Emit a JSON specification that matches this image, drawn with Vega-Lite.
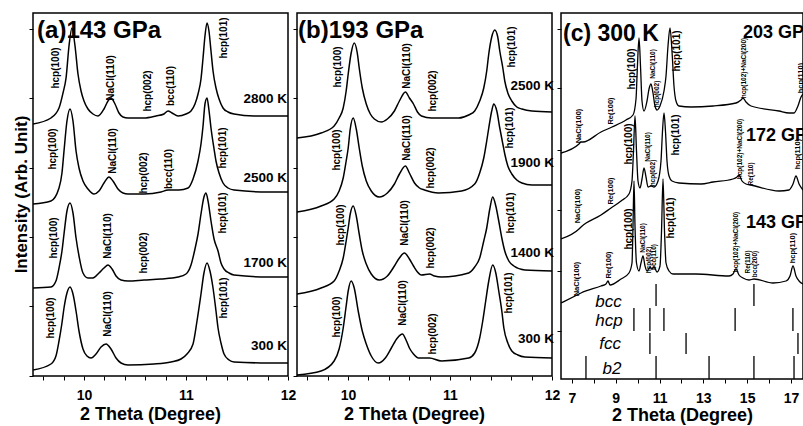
{
"$schema":"https://vega.github.io/schema/vega-lite/v6.json",
"padding":{"left":11,"top":12,"right":0,"bottom":0},
"bounds":"flush",
"spacing":9,
"config":{"font":"Liberation Sans","view":{"stroke":"black","strokeWidth":1.5},
"axis":{"domain":false,"grid":false,"tickSize":4,"tickColor":"black","tickWidth":1,"labelFont":"Liberation Sans","labelFontSize":14,"labelFontWeight":"bold","labelColor":"black","labelPadding":8,"titleFont":"Liberation Sans","titleFontSize":18,"titleFontWeight":"bold","titleColor":"black"},
"text":{"font":"Liberation Sans","color":"black"}},
"datasets":{
"aC":[
{"s":"2800","x":9.5,"y":252},{"s":"2800","x":9.676,"y":258},{"s":"2800","x":9.755,"y":268},{"s":"2800","x":9.794,"y":283},{"s":"2800","x":9.824,"y":298},{"s":"2800","x":9.853,"y":330},{"s":"2800","x":9.882,"y":348},{"s":"2800","x":9.912,"y":330},{"s":"2800","x":9.941,"y":302},{"s":"2800","x":9.971,"y":285},{"s":"2800","x":10.0,"y":275},{"s":"2800","x":10.039,"y":267},{"s":"2800","x":10.088,"y":262},{"s":"2800","x":10.137,"y":260},{"s":"2800","x":10.196,"y":267},{"s":"2800","x":10.235,"y":275},{"s":"2800","x":10.265,"y":278},{"s":"2800","x":10.304,"y":272},{"s":"2800","x":10.343,"y":263},{"s":"2800","x":10.382,"y":259},{"s":"2800","x":10.431,"y":258},{"s":"2800","x":10.588,"y":258},{"s":"2800","x":10.706,"y":260},{"s":"2800","x":10.784,"y":262},{"s":"2800","x":10.824,"y":265},{"s":"2800","x":10.863,"y":263},{"s":"2800","x":10.922,"y":260},{"s":"2800","x":11.0,"y":262},{"s":"2800","x":11.049,"y":265},{"s":"2800","x":11.088,"y":272},{"s":"2800","x":11.118,"y":282},{"s":"2800","x":11.147,"y":297},{"s":"2800","x":11.167,"y":318},{"s":"2800","x":11.186,"y":340},{"s":"2800","x":11.206,"y":353},{"s":"2800","x":11.225,"y":345},{"s":"2800","x":11.245,"y":325},{"s":"2800","x":11.265,"y":305},{"s":"2800","x":11.294,"y":288},{"s":"2800","x":11.324,"y":277},{"s":"2800","x":11.363,"y":268},{"s":"2800","x":11.412,"y":264},{"s":"2800","x":11.471,"y":262},{"s":"2800","x":11.667,"y":260},{"s":"2800","x":12.0,"y":260},
{"s":"2500","x":9.5,"y":172},{"s":"2500","x":9.676,"y":175},{"s":"2500","x":9.755,"y":188},{"s":"2500","x":9.784,"y":203},{"s":"2500","x":9.804,"y":225},{"s":"2500","x":9.833,"y":255},{"s":"2500","x":9.863,"y":267},{"s":"2500","x":9.892,"y":255},{"s":"2500","x":9.922,"y":225},{"s":"2500","x":9.951,"y":208},{"s":"2500","x":9.99,"y":195},{"s":"2500","x":10.039,"y":187},{"s":"2500","x":10.098,"y":182},{"s":"2500","x":10.147,"y":185},{"s":"2500","x":10.196,"y":193},{"s":"2500","x":10.245,"y":199},{"s":"2500","x":10.284,"y":195},{"s":"2500","x":10.333,"y":187},{"s":"2500","x":10.382,"y":183},{"s":"2500","x":10.431,"y":182},{"s":"2500","x":10.588,"y":182},{"s":"2500","x":10.755,"y":184},{"s":"2500","x":10.824,"y":186},{"s":"2500","x":10.931,"y":186},{"s":"2500","x":11.02,"y":188},{"s":"2500","x":11.069,"y":197},{"s":"2500","x":11.118,"y":215},{"s":"2500","x":11.147,"y":232},{"s":"2500","x":11.167,"y":250},{"s":"2500","x":11.186,"y":272},{"s":"2500","x":11.206,"y":278},{"s":"2500","x":11.225,"y":266},{"s":"2500","x":11.245,"y":248},{"s":"2500","x":11.275,"y":227},{"s":"2500","x":11.294,"y":215},{"s":"2500","x":11.324,"y":203},{"s":"2500","x":11.363,"y":193},{"s":"2500","x":11.412,"y":188},{"s":"2500","x":11.471,"y":186},{"s":"2500","x":11.804,"y":184},{"s":"2500","x":12.0,"y":184},
{"s":"1700","x":9.5,"y":88},{"s":"1700","x":9.676,"y":89},{"s":"1700","x":9.725,"y":95},{"s":"1700","x":9.755,"y":108},{"s":"1700","x":9.784,"y":125},{"s":"1700","x":9.804,"y":142},{"s":"1700","x":9.833,"y":165},{"s":"1700","x":9.863,"y":173},{"s":"1700","x":9.892,"y":163},{"s":"1700","x":9.922,"y":138},{"s":"1700","x":9.951,"y":120},{"s":"1700","x":9.99,"y":103},{"s":"1700","x":10.039,"y":98},{"s":"1700","x":10.088,"y":98},{"s":"1700","x":10.147,"y":103},{"s":"1700","x":10.196,"y":108},{"s":"1700","x":10.235,"y":111},{"s":"1700","x":10.275,"y":107},{"s":"1700","x":10.314,"y":100},{"s":"1700","x":10.363,"y":96},{"s":"1700","x":10.431,"y":95},{"s":"1700","x":10.588,"y":96},{"s":"1700","x":10.755,"y":97},{"s":"1700","x":10.922,"y":99},{"s":"1700","x":11.0,"y":102},{"s":"1700","x":11.049,"y":111},{"s":"1700","x":11.088,"y":127},{"s":"1700","x":11.118,"y":142},{"s":"1700","x":11.147,"y":162},{"s":"1700","x":11.176,"y":179},{"s":"1700","x":11.196,"y":183},{"s":"1700","x":11.216,"y":175},{"s":"1700","x":11.245,"y":155},{"s":"1700","x":11.275,"y":137},{"s":"1700","x":11.314,"y":125},{"s":"1700","x":11.343,"y":113},{"s":"1700","x":11.373,"y":107},{"s":"1700","x":11.422,"y":103},{"s":"1700","x":11.471,"y":101},{"s":"1700","x":11.804,"y":99},{"s":"1700","x":12.0,"y":99},
{"s":"300","x":9.5,"y":6},{"s":"300","x":9.676,"y":12},{"s":"300","x":9.725,"y":20},{"s":"300","x":9.755,"y":35},{"s":"300","x":9.784,"y":53},{"s":"300","x":9.804,"y":68},{"s":"300","x":9.833,"y":83},{"s":"300","x":9.863,"y":89},{"s":"300","x":9.892,"y":82},{"s":"300","x":9.922,"y":65},{"s":"300","x":9.951,"y":45},{"s":"300","x":9.99,"y":27},{"s":"300","x":10.029,"y":20},{"s":"300","x":10.069,"y":18},{"s":"300","x":10.118,"y":22},{"s":"300","x":10.167,"y":29},{"s":"300","x":10.216,"y":32},{"s":"300","x":10.265,"y":27},{"s":"300","x":10.314,"y":18},{"s":"300","x":10.363,"y":13},{"s":"300","x":10.431,"y":11},{"s":"300","x":10.686,"y":12},{"s":"300","x":10.853,"y":14},{"s":"300","x":10.951,"y":17},{"s":"300","x":11.01,"y":22},{"s":"300","x":11.069,"y":32},{"s":"300","x":11.108,"y":55},{"s":"300","x":11.147,"y":82},{"s":"300","x":11.176,"y":103},{"s":"300","x":11.206,"y":113},{"s":"300","x":11.235,"y":105},{"s":"300","x":11.265,"y":88},{"s":"300","x":11.294,"y":65},{"s":"300","x":11.314,"y":48},{"s":"300","x":11.343,"y":33},{"s":"300","x":11.373,"y":22},{"s":"300","x":11.422,"y":16},{"s":"300","x":11.471,"y":14},{"s":"300","x":11.804,"y":13},{"s":"300","x":12.0,"y":13}
],
"aL":[
{"x":9.725,"y":308,"t":"hcp(100)"},{"x":10.265,"y":298,"t":"NaCl(110)"},{"x":10.627,"y":285,"t":"hcp(002)"},{"x":10.853,"y":290,"t":"bcc(110)"},{"x":11.373,"y":338,"t":"hcp(101)"},
{"x":9.696,"y":227,"t":"hcp(100)"},{"x":10.284,"y":225,"t":"NaCl(110)"},{"x":10.588,"y":203,"t":"hcp(002)"},{"x":10.833,"y":207,"t":"bcc(110)"},{"x":11.363,"y":228,"t":"hcp(101)"},
{"x":9.706,"y":138,"t":"hcp(100)"},{"x":10.235,"y":140,"t":"NaCl(110)"},{"x":10.588,"y":123,"t":"hcp(002)"},{"x":11.363,"y":163,"t":"hcp(101)"},
{"x":9.676,"y":58,"t":"hcp(100)"},{"x":10.235,"y":62,"t":"NaCl(110)"},{"x":11.373,"y":78,"t":"hcp(101)"}
],
"aT":[{"x":11.99,"y":277,"t":"2800 K"},{"x":11.99,"y":198,"t":"2500 K"},{"x":11.99,"y":113,"t":"1700 K"},{"x":11.99,"y":30,"t":"300 K"}],
"aH":[{"x":9.54,"y":338,"t":"(a)143 GPa"}],
"bC":[
{"s":"2500","x":9.5,"y":238},{"s":"2500","x":9.736,"y":243},{"s":"2500","x":9.864,"y":250},{"s":"2500","x":9.913,"y":258},{"s":"2500","x":9.953,"y":268},{"s":"2500","x":9.982,"y":285},{"s":"2500","x":10.002,"y":302},{"s":"2500","x":10.031,"y":323},{"s":"2500","x":10.061,"y":333},{"s":"2500","x":10.091,"y":323},{"s":"2500","x":10.11,"y":308},{"s":"2500","x":10.14,"y":288},{"s":"2500","x":10.179,"y":272},{"s":"2500","x":10.219,"y":262},{"s":"2500","x":10.258,"y":257},{"s":"2500","x":10.327,"y":254},{"s":"2500","x":10.386,"y":257},{"s":"2500","x":10.455,"y":265},{"s":"2500","x":10.504,"y":275},{"s":"2500","x":10.563,"y":284},{"s":"2500","x":10.602,"y":278},{"s":"2500","x":10.642,"y":272},{"s":"2500","x":10.681,"y":264},{"s":"2500","x":10.72,"y":260},{"s":"2500","x":10.819,"y":258},{"s":"2500","x":11.085,"y":258},{"s":"2500","x":11.183,"y":261},{"s":"2500","x":11.242,"y":265},{"s":"2500","x":11.291,"y":275},{"s":"2500","x":11.331,"y":288},{"s":"2500","x":11.36,"y":305},{"s":"2500","x":11.38,"y":322},{"s":"2500","x":11.409,"y":339},{"s":"2500","x":11.439,"y":346},{"s":"2500","x":11.468,"y":339},{"s":"2500","x":11.488,"y":325},{"s":"2500","x":11.518,"y":308},{"s":"2500","x":11.537,"y":295},{"s":"2500","x":11.567,"y":283},{"s":"2500","x":11.606,"y":275},{"s":"2500","x":11.655,"y":269},{"s":"2500","x":11.705,"y":267},{"s":"2500","x":11.803,"y":265},{"s":"2500","x":12.0,"y":264},
{"s":"1900","x":9.5,"y":164},{"s":"1900","x":9.736,"y":170},{"s":"1900","x":9.864,"y":177},{"s":"1900","x":9.913,"y":185},{"s":"1900","x":9.953,"y":198},{"s":"1900","x":9.982,"y":215},{"s":"1900","x":10.002,"y":228},{"s":"1900","x":10.022,"y":247},{"s":"1900","x":10.051,"y":258},{"s":"1900","x":10.081,"y":247},{"s":"1900","x":10.11,"y":228},{"s":"1900","x":10.14,"y":210},{"s":"1900","x":10.179,"y":195},{"s":"1900","x":10.228,"y":185},{"s":"1900","x":10.307,"y":179},{"s":"1900","x":10.386,"y":183},{"s":"1900","x":10.455,"y":192},{"s":"1900","x":10.504,"y":202},{"s":"1900","x":10.563,"y":210},{"s":"1900","x":10.602,"y":203},{"s":"1900","x":10.652,"y":193},{"s":"1900","x":10.701,"y":188},{"s":"1900","x":10.75,"y":186},{"s":"1900","x":10.888,"y":183},{"s":"1900","x":11.114,"y":185},{"s":"1900","x":11.242,"y":192},{"s":"1900","x":11.291,"y":203},{"s":"1900","x":11.331,"y":218},{"s":"1900","x":11.36,"y":235},{"s":"1900","x":11.38,"y":248},{"s":"1900","x":11.409,"y":265},{"s":"1900","x":11.429,"y":272},{"s":"1900","x":11.459,"y":265},{"s":"1900","x":11.488,"y":248},{"s":"1900","x":11.518,"y":232},{"s":"1900","x":11.537,"y":222},{"s":"1900","x":11.567,"y":210},{"s":"1900","x":11.606,"y":202},{"s":"1900","x":11.655,"y":196},{"s":"1900","x":11.705,"y":193},{"s":"1900","x":11.803,"y":191},{"s":"1900","x":12.0,"y":191},
{"s":"1400","x":9.5,"y":82},{"s":"1400","x":9.736,"y":88},{"s":"1400","x":9.864,"y":95},{"s":"1400","x":9.913,"y":105},{"s":"1400","x":9.953,"y":118},{"s":"1400","x":9.982,"y":135},{"s":"1400","x":10.002,"y":148},{"s":"1400","x":10.022,"y":162},{"s":"1400","x":10.051,"y":170},{"s":"1400","x":10.081,"y":160},{"s":"1400","x":10.11,"y":142},{"s":"1400","x":10.14,"y":125},{"s":"1400","x":10.179,"y":112},{"s":"1400","x":10.228,"y":102},{"s":"1400","x":10.307,"y":96},{"s":"1400","x":10.386,"y":100},{"s":"1400","x":10.455,"y":110},{"s":"1400","x":10.504,"y":118},{"s":"1400","x":10.553,"y":123},{"s":"1400","x":10.602,"y":117},{"s":"1400","x":10.642,"y":110},{"s":"1400","x":10.681,"y":104},{"s":"1400","x":10.72,"y":101},{"s":"1400","x":10.799,"y":102},{"s":"1400","x":10.848,"y":100},{"s":"1400","x":10.917,"y":99},{"s":"1400","x":11.183,"y":103},{"s":"1400","x":11.242,"y":109},{"s":"1400","x":11.291,"y":118},{"s":"1400","x":11.331,"y":135},{"s":"1400","x":11.36,"y":148},{"s":"1400","x":11.39,"y":167},{"s":"1400","x":11.419,"y":179},{"s":"1400","x":11.449,"y":170},{"s":"1400","x":11.478,"y":155},{"s":"1400","x":11.508,"y":138},{"s":"1400","x":11.537,"y":125},{"s":"1400","x":11.577,"y":115},{"s":"1400","x":11.626,"y":110},{"s":"1400","x":11.734,"y":106},{"s":"1400","x":12.0,"y":105},
{"s":"300","x":9.5,"y":1},{"s":"300","x":9.736,"y":5},{"s":"300","x":9.864,"y":15},{"s":"300","x":9.913,"y":27},{"s":"300","x":9.953,"y":48},{"s":"300","x":9.982,"y":70},{"s":"300","x":10.002,"y":85},{"s":"300","x":10.031,"y":95},{"s":"300","x":10.061,"y":88},{"s":"300","x":10.1,"y":65},{"s":"300","x":10.14,"y":45},{"s":"300","x":10.179,"y":32},{"s":"300","x":10.228,"y":20},{"s":"300","x":10.297,"y":13},{"s":"300","x":10.366,"y":18},{"s":"300","x":10.425,"y":28},{"s":"300","x":10.484,"y":38},{"s":"300","x":10.533,"y":42},{"s":"300","x":10.573,"y":35},{"s":"300","x":10.602,"y":28},{"s":"300","x":10.642,"y":22},{"s":"300","x":10.691,"y":18},{"s":"300","x":10.799,"y":18},{"s":"300","x":10.917,"y":15},{"s":"300","x":11.183,"y":18},{"s":"300","x":11.242,"y":23},{"s":"300","x":11.291,"y":38},{"s":"300","x":11.321,"y":55},{"s":"300","x":11.35,"y":75},{"s":"300","x":11.38,"y":95},{"s":"300","x":11.419,"y":111},{"s":"300","x":11.449,"y":103},{"s":"300","x":11.478,"y":85},{"s":"300","x":11.508,"y":65},{"s":"300","x":11.528,"y":48},{"s":"300","x":11.567,"y":33},{"s":"300","x":11.606,"y":25},{"s":"300","x":11.665,"y":21},{"s":"300","x":11.734,"y":19},{"s":"300","x":12.0,"y":18}
],
"bL":[
{"x":9.904,"y":309,"t":"hcp(100)"},{"x":10.583,"y":310,"t":"NaCl(110)"},{"x":10.829,"y":285,"t":"hcp(002)"},{"x":11.606,"y":329,"t":"hcp(101)"},
{"x":9.894,"y":226,"t":"hcp(100)"},{"x":10.583,"y":238,"t":"NaCl(110)"},{"x":10.809,"y":208,"t":"hcp(002)"},{"x":11.587,"y":248,"t":"hcp(101)"},
{"x":9.933,"y":151,"t":"hcp(100)"},{"x":10.563,"y":153,"t":"NaCl(110)"},{"x":10.809,"y":128,"t":"hcp(002)"},{"x":11.596,"y":163,"t":"hcp(101)"},
{"x":9.894,"y":59,"t":"hcp(100)"},{"x":10.543,"y":73,"t":"NaCl(110)"},{"x":10.829,"y":42,"t":"hcp(002)"},{"x":11.577,"y":83,"t":"hcp(101)"}
],
"bT":[{"x":12.02,"y":290,"t":"2500 K"},{"x":12.02,"y":213,"t":"1900 K"},{"x":12.02,"y":123,"t":"1400 K"},{"x":12.02,"y":37,"t":"300 K"}],
"bH":[{"x":9.51,"y":338,"t":"(b)193 GPa"}],
"cC":[
{"s":"203","x":6.5,"y":226},{"s":"203","x":7.322,"y":235},{"s":"203","x":7.413,"y":237},{"s":"203","x":7.5,"y":237},{"s":"203","x":8.326,"y":247},{"s":"203","x":8.829,"y":252},{"s":"203","x":9.468,"y":259},{"s":"203","x":9.788,"y":264},{"s":"203","x":9.925,"y":280},{"s":"203","x":9.99,"y":313},{"s":"203","x":10.062,"y":341},{"s":"203","x":10.13,"y":313},{"s":"203","x":10.199,"y":278},{"s":"203","x":10.29,"y":268},{"s":"203","x":10.427,"y":278},{"s":"203","x":10.519,"y":290},{"s":"203","x":10.61,"y":295},{"s":"203","x":10.701,"y":286},{"s":"203","x":10.792,"y":273},{"s":"203","x":10.884,"y":269},{"s":"203","x":11.02,"y":273},{"s":"203","x":11.203,"y":288},{"s":"203","x":11.295,"y":303},{"s":"203","x":11.386,"y":333},{"s":"203","x":11.477,"y":351},{"s":"203","x":11.568,"y":328},{"s":"203","x":11.659,"y":293},{"s":"203","x":11.751,"y":278},{"s":"203","x":11.888,"y":273},{"s":"203","x":12.436,"y":272},{"s":"203","x":13.441,"y":273},{"s":"203","x":14.491,"y":276},{"s":"203","x":14.719,"y":279},{"s":"203","x":14.811,"y":281},{"s":"203","x":14.947,"y":277},{"s":"203","x":15.176,"y":273},{"s":"203","x":16.454,"y":268},{"s":"203","x":16.911,"y":266},{"s":"203","x":17.14,"y":266},{"s":"203","x":17.32,"y":273},{"s":"203","x":17.46,"y":282},{"s":"203","x":17.55,"y":285},
{"s":"172","x":6.5,"y":140},{"s":"172","x":7.322,"y":150},{"s":"172","x":7.413,"y":152},{"s":"172","x":8.326,"y":164},{"s":"172","x":8.783,"y":171},{"s":"172","x":9.24,"y":178},{"s":"172","x":9.605,"y":185},{"s":"172","x":9.742,"y":198},{"s":"172","x":9.81,"y":228},{"s":"172","x":9.879,"y":263},{"s":"172","x":9.947,"y":228},{"s":"172","x":10.016,"y":198},{"s":"172","x":10.107,"y":191},{"s":"172","x":10.199,"y":200},{"s":"172","x":10.29,"y":211},{"s":"172","x":10.381,"y":202},{"s":"172","x":10.473,"y":192},{"s":"172","x":10.61,"y":193},{"s":"172","x":10.747,"y":192},{"s":"172","x":10.93,"y":198},{"s":"172","x":11.066,"y":218},{"s":"172","x":11.135,"y":248},{"s":"172","x":11.203,"y":266},{"s":"172","x":11.27,"y":248},{"s":"172","x":11.34,"y":218},{"s":"172","x":11.432,"y":203},{"s":"172","x":11.568,"y":198},{"s":"172","x":11.888,"y":196},{"s":"172","x":12.893,"y":195},{"s":"172","x":13.441,"y":197},{"s":"172","x":14.354,"y":200},{"s":"172","x":14.537,"y":202},{"s":"172","x":14.628,"y":204},{"s":"172","x":14.765,"y":198},{"s":"172","x":14.947,"y":195},{"s":"172","x":15.176,"y":194},{"s":"172","x":16.454,"y":188},{"s":"172","x":16.911,"y":189},{"s":"172","x":17.094,"y":195},{"s":"172","x":17.23,"y":203},{"s":"172","x":17.37,"y":195},{"s":"172","x":17.55,"y":189},
{"s":"143","x":6.5,"y":76},{"s":"143","x":7.322,"y":85},{"s":"143","x":7.413,"y":86},{"s":"143","x":8.326,"y":93},{"s":"143","x":8.555,"y":95},{"s":"143","x":8.646,"y":98},{"s":"143","x":8.737,"y":94},{"s":"143","x":9.24,"y":100},{"s":"143","x":9.605,"y":106},{"s":"143","x":9.742,"y":116},{"s":"143","x":9.788,"y":153},{"s":"143","x":9.833,"y":198},{"s":"143","x":9.879,"y":153},{"s":"143","x":9.947,"y":116},{"s":"143","x":10.062,"y":108},{"s":"143","x":10.153,"y":116},{"s":"143","x":10.244,"y":123},{"s":"143","x":10.336,"y":113},{"s":"143","x":10.427,"y":108},{"s":"143","x":10.564,"y":112},{"s":"143","x":10.655,"y":110},{"s":"143","x":10.747,"y":112},{"s":"143","x":10.884,"y":107},{"s":"143","x":11.02,"y":113},{"s":"143","x":11.09,"y":148},{"s":"143","x":11.158,"y":200},{"s":"143","x":11.226,"y":148},{"s":"143","x":11.295,"y":116},{"s":"143","x":11.432,"y":108},{"s":"143","x":11.614,"y":105},{"s":"143","x":12.664,"y":105},{"s":"143","x":14.171,"y":103},{"s":"143","x":14.354,"y":105},{"s":"143","x":14.491,"y":110},{"s":"143","x":14.628,"y":104},{"s":"143","x":14.811,"y":101},{"s":"143","x":15.084,"y":99},{"s":"143","x":15.313,"y":100},{"s":"143","x":16.18,"y":96},{"s":"143","x":16.774,"y":98},{"s":"143","x":16.957,"y":103},{"s":"143","x":17.094,"y":113},{"s":"143","x":17.23,"y":103},{"s":"143","x":17.37,"y":98},{"s":"143","x":17.55,"y":95}
],
"cL":[{"x":9.74,"y":310,"t":"hcp(100)"},{"x":11.8,"y":328,"t":"hcp(101)"},{"x":9.6,"y":235,"t":"hcp(100)"},{"x":11.75,"y":244,"t":"hcp(101)"},{"x":9.6,"y":150,"t":"hcp(100)"},{"x":11.52,"y":161,"t":"hcp(101)"}],
"cM":[{"x":7.32,"y":253,"t":"NaCl(100)"},{"x":8.78,"y":268,"t":"Re(100)"},{"x":17.46,"y":301,"t":"hcp(110)"},{"x":7.28,"y":173,"t":"NaCl(100)"},{"x":8.78,"y":188,"t":"Re(100)"},{"x":17.32,"y":225,"t":"hcp(110)"},{"x":7.23,"y":100,"t":"NaCl(100)"},{"x":8.69,"y":114,"t":"Re(100)"},{"x":17.09,"y":131,"t":"hcp(110)"}],
"cS":[{"x":10.7,"y":315,"t":"NaCl(110)"},{"x":10.88,"y":285,"t":"hcp(002)"},{"x":14.86,"y":311,"t":"hcp(102)+NaCl(200)"},{"x":10.47,"y":232,"t":"NaCl(110)"},{"x":10.7,"y":206,"t":"hcp(002)"},{"x":14.67,"y":230,"t":"hcp(102)+NaCl(200)"},{"x":15.18,"y":205,"t":"Re(110)"},{"x":10.24,"y":141,"t":"NaCl(110)"},{"x":10.52,"y":119,"t":"hcp(002)"},{"x":10.75,"y":122,"t":"bcc(110)"},{"x":14.49,"y":137,"t":"hcp(102)+NaCl(200)"},{"x":15.04,"y":117,"t":"Re(110)"},{"x":15.36,"y":115,"t":"bcc(200)"}],
"cR":[{"x":10.84,"y":95,"y2":73},{"x":15.31,"y":95,"y2":73},{"x":9.83,"y":71,"y2":48},{"x":10.56,"y":71,"y2":48},{"x":11.2,"y":71,"y2":48},{"x":14.45,"y":71,"y2":48},{"x":17.09,"y":71,"y2":48},{"x":10.56,"y":46,"y2":25},{"x":12.21,"y":46,"y2":25},{"x":17.32,"y":46,"y2":25},{"x":7.64,"y":23,"y2":0},{"x":10.84,"y":23,"y2":0},{"x":13.26,"y":23,"y2":0},{"x":15.31,"y":23,"y2":0},{"x":17.14,"y":23,"y2":0}],
"cK":[{"x":8.67,"y":72,"t":"bcc"},{"x":8.69,"y":53,"t":"hcp"},{"x":8.74,"y":30,"t":"fcc"},{"x":8.83,"y":5,"t":"b2"}],
"cP":[{"x":14.81,"y":341,"t":"203 GPa"},{"x":14.95,"y":238,"t":"172 GPa"},{"x":14.95,"y":151,"t":"143 GPa"}],
"cH":[{"x":6.59,"y":338,"t":"(c) 300 K"}]
},
"hconcat":[
{"width":255,"height":363,
"encoding":{
"x":{"field":"x","type":"quantitative","scale":{"domain":[9.5,12],"nice":false,"zero":false},
"axis":{"values":[9.6,9.8,10,10.2,10.4,10.6,10.8,11,11.2,11.4,11.6,11.8,12],"labelExpr":"(datum.value==10||datum.value==11||datum.value==12)?format(datum.value,'d'):''","labelFlush":false,"labelOverlap":false,"title":"2 Theta (Degree)","titleX":117,"titleY":43,"titleBaseline":"alphabetic"}},
"y":{"field":"y","type":"quantitative","scale":{"domain":[0,363],"nice":false,"zero":false},
"axis":{"values":[0,70,139,208,278,347],"labels":false,"title":"Intensity (Arb. Unit)","titleFontSize":17,"titleX":-7,"titleY":181,"titleAngle":270,"titleBaseline":"alphabetic"}}},
"layer":[
{"data":{"name":"aC"},"mark":{"type":"line","interpolate":"monotone","color":"black","strokeWidth":1.5,"clip":true},"encoding":{"detail":{"field":"s"}}},
{"data":{"name":"aL"},"mark":{"type":"text","angle":270,"align":"center","baseline":"middle","fontSize":10,"fontWeight":"bold"},"encoding":{"text":{"field":"t"}}},
{"data":{"name":"aT"},"mark":{"type":"text","align":"right","baseline":"middle","fontSize":13.5,"fontWeight":"bold"},"encoding":{"text":{"field":"t"}}},
{"data":{"name":"aH"},"mark":{"type":"text","align":"left","baseline":"alphabetic","fontSize":24,"fontWeight":"bold"},"encoding":{"text":{"field":"t"}}}
]},
{"width":255,"height":363,
"encoding":{
"x":{"field":"x","type":"quantitative","scale":{"domain":[9.5,12],"nice":false,"zero":false},
"axis":{"values":[9.6,9.8,10,10.2,10.4,10.6,10.8,11,11.2,11.4,11.6,11.8,12],"labelExpr":"(datum.value==10||datum.value==11||datum.value==12)?format(datum.value,'d'):''","labelFlush":false,"labelOverlap":false,"title":"2 Theta (Degree)","titleX":117,"titleY":43,"titleBaseline":"alphabetic"}},
"y":{"field":"y","type":"quantitative","scale":{"domain":[0,363],"nice":false,"zero":false},
"axis":{"values":[0,70,139,208,278,347],"labels":false,"title":null}}},
"layer":[
{"data":{"name":"bC"},"mark":{"type":"line","interpolate":"monotone","color":"black","strokeWidth":1.5,"clip":true},"encoding":{"detail":{"field":"s"}}},
{"data":{"name":"bL"},"mark":{"type":"text","angle":270,"align":"center","baseline":"middle","fontSize":10,"fontWeight":"bold"},"encoding":{"text":{"field":"t"}}},
{"data":{"name":"bT"},"mark":{"type":"text","align":"right","baseline":"middle","fontSize":13.5,"fontWeight":"bold"},"encoding":{"text":{"field":"t"}}},
{"data":{"name":"bH"},"mark":{"type":"text","align":"left","baseline":"alphabetic","fontSize":24,"fontWeight":"bold"},"encoding":{"text":{"field":"t"}}}
]},
{"width":242,"height":366,
"encoding":{
"x":{"field":"x","type":"quantitative","scale":{"domain":[6.5,17.55],"nice":false,"zero":false},
"axis":{"values":[7,8,9,10,11,12,13,14,15,16,17],"labelExpr":"datum.value%2==1?datum.label:''","labelFlush":false,"labelOverlap":false,"title":"2 Theta (Degree)","titleX":121,"titleY":41,"titleBaseline":"alphabetic"}},
"y":{"field":"y","type":"quantitative","scale":{"domain":[0,366],"nice":false,"zero":false},
"axis":{"values":[48,108,169,229,291,350],"labels":false,"title":null}}},
"layer":[
{"data":{"name":"cC"},"mark":{"type":"line","interpolate":"monotone","color":"black","strokeWidth":1.3,"clip":true},"encoding":{"detail":{"field":"s"}}},
{"data":{"name":"cR"},"mark":{"type":"rule","color":"black","strokeWidth":1.3},"encoding":{"y2":{"field":"y2"}}},
{"data":{"name":"cL"},"mark":{"type":"text","angle":270,"align":"center","baseline":"middle","fontSize":10,"fontWeight":"bold","clip":true},"encoding":{"text":{"field":"t"}}},
{"data":{"name":"cM"},"mark":{"type":"text","angle":270,"align":"center","baseline":"middle","fontSize":7.5,"fontWeight":"bold","clip":true},"encoding":{"text":{"field":"t"}}},
{"data":{"name":"cS"},"mark":{"type":"text","angle":270,"align":"center","baseline":"middle","fontSize":6.5,"fontWeight":"bold","clip":true},"encoding":{"text":{"field":"t"}}},
{"data":{"name":"cK"},"mark":{"type":"text","align":"center","baseline":"alphabetic","fontSize":17,"fontStyle":"italic"},"encoding":{"text":{"field":"t"}}},
{"data":{"name":"cP"},"mark":{"type":"text","align":"left","baseline":"alphabetic","fontSize":18,"fontWeight":"bold","clip":true},"encoding":{"text":{"field":"t"}}},
{"data":{"name":"cH"},"mark":{"type":"text","align":"left","baseline":"alphabetic","fontSize":23,"fontWeight":"bold"},"encoding":{"text":{"field":"t"}}}
]}
]
}
